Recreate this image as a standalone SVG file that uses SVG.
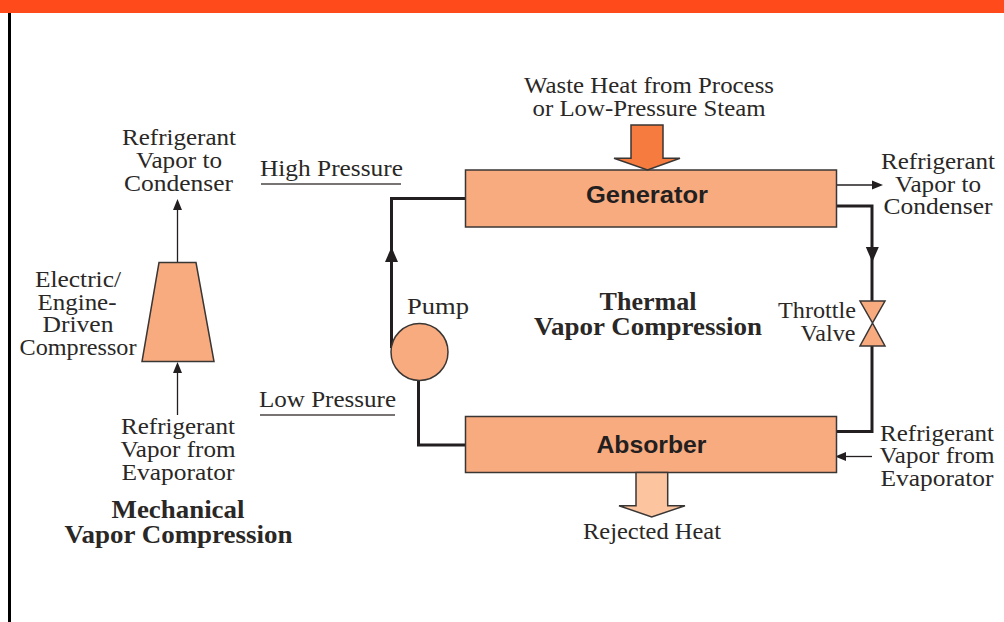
<svg xmlns="http://www.w3.org/2000/svg" width="1004" height="622" viewBox="0 0 1004 622">
<style>
text{font-family:"Liberation Serif","Times New Roman",serif;font-size:22.5px;fill:#2a2826;text-anchor:middle}
.b{font-weight:bold;font-size:24.5px}
.s{font-family:"Liberation Sans",Arial,sans-serif;font-weight:bold;font-size:24px;fill:#231f20}
.n{fill:#f9ab80;stroke:#3a3634;stroke-width:1.5}
.pipe{fill:none;stroke:#231f20;stroke-width:3}
.thin{fill:none;stroke:#231f20;stroke-width:1.3}
.rule{stroke:#4a4644;stroke-width:1.3}
.head{fill:#231f20}
</style>
<rect id="top-bar" x="0" y="0" width="1004" height="13" fill="#ff4a1c"/>
<rect id="left-rule" x="8" y="13" width="3" height="609" fill="#000"/>

<g id="connectors">
<path class="pipe" d="M465.500 198.500H391.500V348"/>
<path class="pipe" d="M418.500 378V445H466"/>
<path class="pipe" d="M837 206H872V301"/>
<path class="pipe" d="M872 346V431.500H837"/>
<path class="head" d="M391.500 247L385 262H398Z"/>
<path class="head" d="M872.300 262L865.800 247H878.800Z"/>
<path class="thin" d="M177.500 262.500V208"/>
<path class="head" d="M177.500 199L173 210H182Z"/>
<path class="thin" d="M177.500 415V372"/>
<path class="head" d="M177.500 362L173 373H182Z"/>
<path class="thin" d="M837 185H874"/>
<path class="head" d="M883 185L872 180.500V189.500Z"/>
<path class="thin" d="M872 456.500H845"/>
<path class="head" d="M835 456.500L846 452V461Z"/>
<path class="rule" d="M261 184H401"/>
<path class="rule" d="M260 415H395"/>
</g>

<g id="generator">
<rect class="n" x="465.500" y="170" width="371" height="57"/>
<text class="s" x="647" y="203" textLength="122" lengthAdjust="spacingAndGlyphs">Generator</text>
</g>
<g id="absorber">
<rect class="n" x="465.500" y="416.500" width="371" height="56"/>
<text class="s" x="651.500" y="453" textLength="110" lengthAdjust="spacingAndGlyphs">Absorber</text>
</g>
<g id="compressor">
<path class="n" d="M159 262.500H196L214 361.500H142Z"/>
</g>
<g id="pump">
<circle class="n" cx="419.500" cy="352" r="28.500"/>
<text x="438" y="314" textLength="62" lengthAdjust="spacingAndGlyphs">Pump</text>
</g>
<g id="throttle-valve">
<path class="n" d="M860 301H885L872.500 323L885 346H860L872.500 323Z"/>
<text x="817" y="318" textLength="78" lengthAdjust="spacingAndGlyphs">Throttle</text>
<text x="828" y="341" textLength="55" lengthAdjust="spacingAndGlyphs">Valve</text>
</g>
<g id="waste-heat-arrow">
<path d="M631 125H663V158.300H680L647.500 170L614 158.300H631Z" fill="#f57b3f" stroke="#3a3634" stroke-width="1.500"/>
</g>
<g id="rejected-heat-arrow">
<path d="M636 472.500H667.700V505.700H685L651.700 517L619 505.700H636Z" fill="#fdc4a0" stroke="#3a3634" stroke-width="1.500"/>
</g>

<g id="labels">
<text x="649" y="93" textLength="250" lengthAdjust="spacingAndGlyphs">Waste Heat from Process</text>
<text x="649" y="116" textLength="233" lengthAdjust="spacingAndGlyphs">or Low-Pressure Steam</text>
<text x="179" y="145" textLength="114" lengthAdjust="spacingAndGlyphs">Refrigerant</text>
<text x="179" y="168" textLength="86" lengthAdjust="spacingAndGlyphs">Vapor to</text>
<text x="178.500" y="191" textLength="109" lengthAdjust="spacingAndGlyphs">Condenser</text>
<text x="331.500" y="176" textLength="143" lengthAdjust="spacingAndGlyphs">High Pressure</text>
<text x="327.500" y="407" textLength="137" lengthAdjust="spacingAndGlyphs">Low Pressure</text>
<text x="938" y="169" textLength="114" lengthAdjust="spacingAndGlyphs">Refrigerant</text>
<text x="938" y="192" textLength="86" lengthAdjust="spacingAndGlyphs">Vapor to</text>
<text x="938" y="214" textLength="109" lengthAdjust="spacingAndGlyphs">Condenser</text>
<text x="78" y="287" textLength="86" lengthAdjust="spacingAndGlyphs">Electric/</text>
<text x="77" y="310" textLength="79" lengthAdjust="spacingAndGlyphs">Engine-</text>
<text x="78" y="332" textLength="71" lengthAdjust="spacingAndGlyphs">Driven</text>
<text x="78" y="355" textLength="117" lengthAdjust="spacingAndGlyphs">Compressor</text>
<text x="178" y="434" textLength="114" lengthAdjust="spacingAndGlyphs">Refrigerant</text>
<text x="178" y="457" textLength="115" lengthAdjust="spacingAndGlyphs">Vapor from</text>
<text x="178" y="480" textLength="113" lengthAdjust="spacingAndGlyphs">Evaporator</text>
<text x="937" y="441" textLength="114" lengthAdjust="spacingAndGlyphs">Refrigerant</text>
<text x="937" y="463" textLength="115" lengthAdjust="spacingAndGlyphs">Vapor from</text>
<text x="937" y="486" textLength="113" lengthAdjust="spacingAndGlyphs">Evaporator</text>
<text x="652" y="539" textLength="138" lengthAdjust="spacingAndGlyphs">Rejected Heat</text>
<text class="b" x="648" y="310" textLength="97" lengthAdjust="spacingAndGlyphs">Thermal</text>
<text class="b" x="648" y="335" textLength="228" lengthAdjust="spacingAndGlyphs">Vapor Compression</text>
<text class="b" x="178" y="518" textLength="133" lengthAdjust="spacingAndGlyphs">Mechanical</text>
<text class="b" x="178.500" y="543" textLength="228" lengthAdjust="spacingAndGlyphs">Vapor Compression</text>
</g>
</svg>
